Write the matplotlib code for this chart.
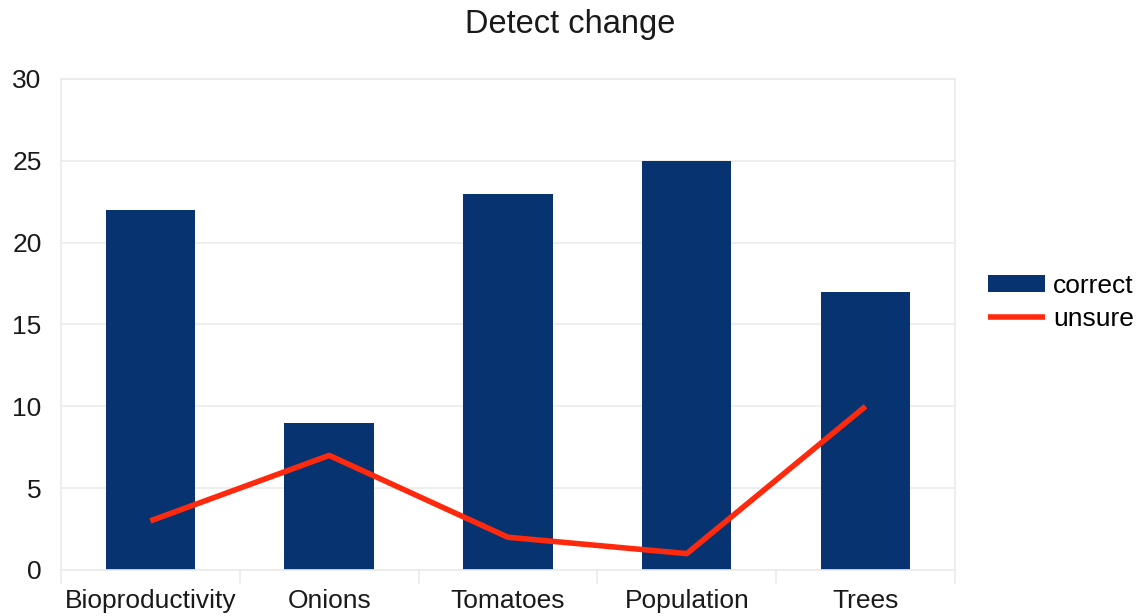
import matplotlib.pyplot as plt
import numpy as np

categories = ["Bioproductivity", "Onions", "Tomatoes", "Population", "Trees"]
correct = [22, 9, 23, 25, 17]
unsure = [3, 7, 2, 1, 10]
y_ticks = [0, 5, 10, 15, 20, 25, 30]

BAR_COLOR = "#073470"
LINE_COLOR = "#ff2a0e"
GRID_COLOR = "#ebebeb"

plt.rcParams["font.family"] = ["Liberation Sans", "DejaVu Sans"]

fig = plt.figure(figsize=(11.4, 6.16), dpi=100)
ax = fig.add_axes([0.0535, 0.0747, 0.7842, 0.7971])

x = np.arange(len(categories))
bars = ax.bar(x, correct, width=0.5, color=BAR_COLOR, label="correct", zorder=2)
line, = ax.plot(x, unsure, color=LINE_COLOR, linewidth=4, label="unsure", zorder=3,
                solid_capstyle="butt")

ax.set_xlim(-0.5, len(categories) - 0.5)
ax.set_ylim(0, 30)
ax.set_yticks(y_ticks)
ax.set_xticks(x)
ax.set_xticklabels(categories)
ax.set_xticks(np.arange(len(categories) + 1) - 0.5, minor=True)

ax.tick_params(axis="both", which="major", labelsize=19, length=0, colors="#1a1a1a")
ax.tick_params(axis="x", which="major", pad=14)
ax.tick_params(axis="y", which="major", pad=14)
ax.tick_params(axis="x", which="minor", length=10, color=GRID_COLOR, width=1.2)
ax.yaxis.grid(True, color=GRID_COLOR, linewidth=1.2, zorder=0)
for s in ax.spines.values():
    s.set_color(GRID_COLOR)
    s.set_linewidth(1.2)

fig.text(0.5, 1 - 25 / 616, "Detect change", fontsize=23.5, color="#1a1a1a",
         ha="center", va="center")

fig.legend([bars, line], ["correct", "unsure"], loc="center left",
           bbox_to_anchor=(0.8667, 0.509), frameon=False, borderpad=0,
           borderaxespad=0, fontsize=19, handlelength=2.16, handleheight=0.6,
           labelspacing=0.36, handletextpad=0.3)

fig.savefig("out.png", dpi=100)
